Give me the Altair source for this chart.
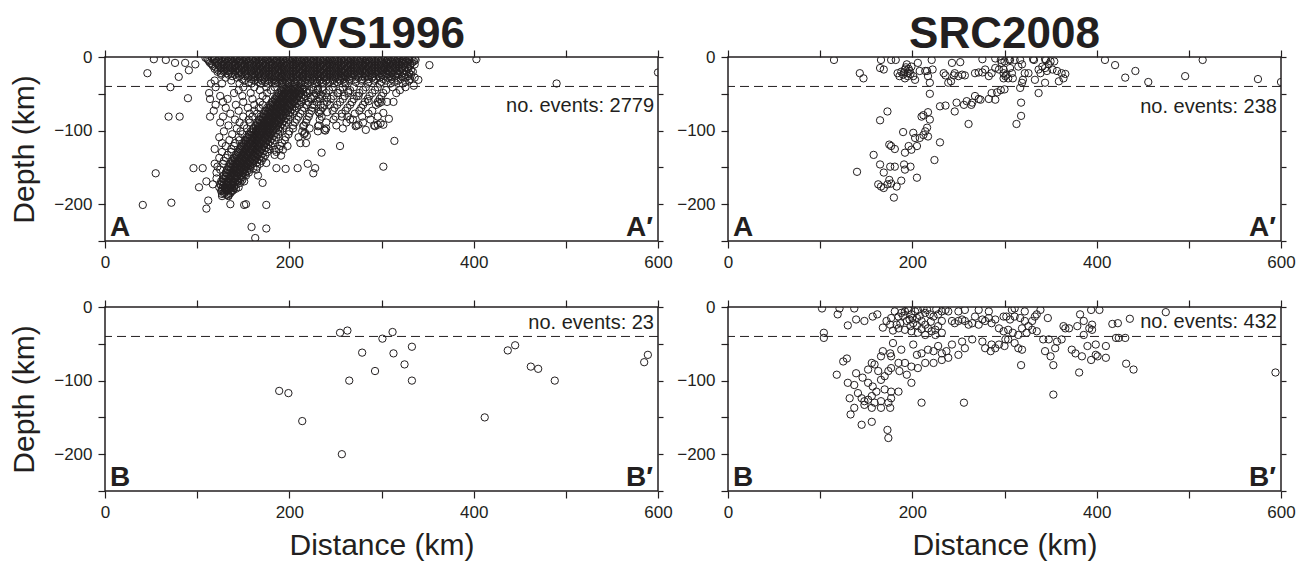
import altair as alt
import pandas as pd

FONT = "Liberation Sans"
INK = "#231f20"

# ---------------- data (distance km, depth km) ----------------
# OVS1996, profile A-A' : dense shallow band, read row by row (depth, distances)
ovs_a_band = [
    (-1, [109, 116, 121, 127, 133, 139, 144, 150, 156, 161, 167, 173, 179, 184, 190, 196, 201, 207, 213, 219, 224, 230, 236, 241, 247, 253, 259, 264, 270, 276, 281, 287, 293, 299, 304, 310, 316, 321, 327, 333]),
    (-2.5, [111, 119, 124, 130, 136, 141, 147, 153, 158, 164, 170, 176, 181, 187, 193, 198, 204, 210, 216, 221, 227, 233, 238, 244, 250, 256, 261, 267, 273, 278, 284, 290, 296, 301, 307, 313, 318, 324, 330, 336]),
    (-4, [112, 118, 124, 130, 136, 142, 147, 153, 159, 164, 170, 176, 182, 187, 193, 199, 204, 210, 216, 222, 227, 233, 239, 244, 250, 256, 262, 267, 273, 279, 284, 290, 296, 302, 307, 313, 319, 324, 330, 337]),
    (-6, [113, 121, 127, 133, 139, 145, 150, 156, 162, 167, 173, 179, 185, 190, 196, 202, 207, 213, 219, 225, 230, 236, 242, 247, 253, 259, 265, 270, 276, 282, 287, 293, 299, 305, 310, 316, 322, 327, 335]),
    (-8, [114, 120, 126, 132, 138, 144, 149, 155, 161, 167, 172, 178, 184, 190, 195, 201, 207, 213, 218, 224, 230, 236, 241, 247, 253, 259, 264, 270, 276, 282, 287, 293, 299, 305, 310, 316, 322, 328, 333]),
    (-10, [116, 123, 129, 135, 141, 147, 152, 158, 164, 170, 175, 181, 187, 193, 198, 204, 210, 216, 221, 227, 233, 239, 244, 250, 256, 262, 267, 273, 279, 285, 290, 296, 302, 308, 313, 319, 325, 331, 336]),
    (-12, [117, 123, 129, 135, 141, 147, 152, 158, 164, 169, 175, 181, 187, 192, 198, 204, 210, 215, 221, 227, 233, 238, 244, 250, 256, 261, 267, 273, 279, 284, 290, 296, 302, 307, 313, 319, 325, 331]),
    (-14, [120, 126, 132, 138, 144, 150, 155, 161, 167, 172, 178, 184, 190, 195, 201, 207, 213, 218, 224, 230, 236, 241, 247, 253, 259, 264, 270, 276, 282, 287, 293, 299, 305, 310, 316, 322, 328]),
    (-16, [119, 126, 132, 138, 143, 149, 155, 161, 166, 172, 178, 184, 189, 195, 201, 207, 212, 218, 224, 230, 235, 241, 247, 253, 258, 264, 270, 276, 281, 287, 293, 299, 304, 310, 316, 322, 329]),
    (-18, [123, 129, 135, 141, 146, 152, 158, 164, 169, 175, 181, 187, 192, 198, 204, 210, 215, 221, 227, 233, 238, 244, 250, 256, 261, 267, 273, 279, 284, 290, 296, 302, 307, 313, 319, 325, 332]),
    (-20, [122, 129, 135, 141, 146, 152, 158, 164, 169, 175, 181, 187, 192, 198, 204, 210, 215, 221, 227, 233, 238, 244, 250, 256, 261, 267, 273, 279, 284, 290, 296, 302, 308, 314, 320, 327, 334]),
    (-22, [126, 132, 138, 144, 149, 155, 161, 167, 172, 178, 184, 190, 195, 201, 207, 213, 218, 224, 230, 236, 241, 247, 253, 259, 264, 270, 276, 282, 287, 293, 299, 305, 311, 317, 323, 330]),
    (-24, [126, 134, 141, 148, 154, 160, 166, 172, 178, 184, 189, 195, 201, 207, 212, 218, 224, 230, 235, 241, 247, 253, 258, 264, 270, 276, 282, 288, 294, 300, 306, 312, 318, 325, 332]),
    (-26, [138, 146, 152, 158, 163, 169, 175, 181, 187, 192, 198, 204, 210, 215, 221, 227, 233, 238, 244, 250, 256, 261, 267, 273, 279, 285, 291, 297, 303, 309, 315, 322, 329]),
    (-28, [131, 143, 155, 162, 168, 174, 180, 186, 192, 198, 204, 209, 215, 221, 227, 232, 238, 244, 250, 256, 262, 268, 275, 282, 290, 298, 307, 316, 326, 336]),
    (-30, [149, 159, 166, 172, 178, 183, 189, 195, 201, 207, 212, 218, 224, 230, 235, 241, 247, 253, 259, 265, 272, 279, 286, 294, 302, 311, 321, 331]),
    (-32, [119, 137, 151, 162, 170, 177, 184, 190, 196, 202, 208, 214, 220, 226, 233, 240, 247, 255, 265, 278, 292, 305, 318, 330]),
    (-34, [156, 166, 174, 181, 187, 193, 199, 205, 211, 217, 223, 230, 236, 244, 252, 260, 272, 286, 300, 314, 326]),
    (-36, [115, 127, 146, 159, 169, 177, 185, 192, 199, 206, 213, 220, 228, 237, 249, 261, 285, 298, 310, 323]),
]
# OVS1996, profile A-A' : dipping slab and wedge, row by row
ovs_a_slab = [
    (-41, [120, 150, 162, 175, 184, 193, 199, 205, 211, 217, 226, 236, 247, 258, 270, 283, 296, 312, 326]),
    (-42, [194, 200, 206, 212]),
    (-43, [196, 202, 208, 214, 231]),
    (-45, [145, 168, 180, 191, 197, 203, 209, 215, 222, 226, 231, 237, 243, 255, 266, 280, 293, 305, 320]),
    (-46, [192, 198, 204, 210]),
    (-47, [194, 200, 206, 212, 218]),
    (-49, [113, 140, 158, 176, 188, 194, 200, 206, 212, 220, 229, 240, 252, 264, 276, 290, 302]),
    (-50, [189, 195, 201, 207]),
    (-51, [191, 197, 203, 209, 215, 234]),
    (-53, [125, 149, 171, 186, 192, 198, 204, 210, 218, 227, 236, 248, 260, 273, 287, 300]),
    (-54, [187, 193, 199, 205]),
    (-55, [189, 195, 201, 207, 213, 223, 232, 241]),
    (-57, [114, 133, 160, 175, 184, 190, 196, 202, 208, 216, 224, 233, 245, 258, 270, 285, 298]),
    (-58, [185, 191, 197, 203]),
    (-59, [187, 193, 199, 205, 211]),
    (-61, [128, 150, 168, 181, 187, 193, 199, 205, 213, 221, 230, 241, 255, 268, 282, 296]),
    (-62, [182, 188, 194, 200]),
    (-63, [184, 190, 196, 202, 208]),
    (-65, [120, 142, 162, 171, 179, 185, 191, 197, 203, 211, 219, 225, 227, 234, 238, 244, 252, 266, 280, 294]),
    (-66, [180, 186, 192, 198]),
    (-67, [182, 188, 194, 200, 206]),
    (-69, [131, 155, 167, 176, 182, 188, 194, 200, 208, 216, 225, 236, 249, 263, 278]),
    (-70, [178, 184, 190, 196]),
    (-71, [179, 185, 191, 197, 203]),
    (-73, [118, 145, 162, 174, 180, 186, 192, 198, 206, 214, 224, 234, 247, 261, 276, 290]),
    (-74, [175, 181, 187, 193]),
    (-75, [177, 183, 189, 195, 201, 232, 241]),
    (-77, [136, 157, 165, 172, 178, 184, 190, 196, 204, 212, 222, 233, 257, 271, 286]),
    (-78, [173, 179, 185, 191]),
    (-79, [175, 181, 187, 193, 199]),
    (-81, [114, 128, 150, 160, 169, 175, 181, 187, 193, 201, 210, 221, 235, 250, 263, 279, 296]),
    (-82, [171, 177, 183, 189]),
    (-83, [172, 178, 184, 190, 196]),
    (-85, [141, 156, 167, 173, 179, 185, 191, 199, 208, 219, 233, 248, 269, 288]),
    (-86, [168, 174, 180, 186]),
    (-87, [170, 176, 182, 188, 194]),
    (-89, [125, 146, 157, 165, 171, 177, 183, 189, 197, 206, 218, 240, 262, 280]),
    (-90, [166, 172, 178, 184]),
    (-91, [168, 174, 180, 186, 192]),
    (-93, [134, 151, 163, 169, 175, 181, 187, 195, 204, 216, 232, 251, 273, 292]),
    (-94, [164, 170, 176, 182]),
    (-95, [166, 172, 178, 184, 190]),
    (-97, [143, 154, 161, 167, 173, 179, 185, 193, 204, 222, 240, 258]),
    (-98, [161, 167, 173, 179]),
    (-99, [164, 170, 176, 182, 188]),
    (-101, [129, 147, 158, 164, 170, 176, 182, 190, 200, 214, 231]),
    (-102, [159, 165, 171, 177]),
    (-103, [161, 167, 173, 179, 185]),
    (-105, [138, 149, 156, 162, 168, 174, 180, 188, 199, 216]),
    (-106, [157, 163, 169, 175]),
    (-107, [159, 165, 171, 177, 183]),
    (-109, [124, 145, 154, 160, 166, 172, 178, 186, 196, 210]),
    (-110, [155, 161, 167, 173]),
    (-111, [157, 163, 169, 175, 181]),
    (-113, [135, 146, 152, 158, 164, 170, 176, 184, 195]),
    (-114, [153, 159, 165, 171]),
    (-115, [155, 161, 167, 173, 179]),
    (-117, [127, 141, 150, 156, 162, 168, 174, 182, 192, 218]),
    (-118, [151, 157, 163, 169]),
    (-119, [153, 159, 165, 171, 177]),
    (-121, [131, 140, 148, 154, 160, 166, 172, 180, 190]),
    (-122, [149, 155, 161, 167]),
    (-123, [151, 157, 163, 169, 175]),
    (-125, [119, 137, 146, 152, 158, 164, 170, 178, 189]),
    (-126, [147, 153, 159, 165]),
    (-127, [149, 155, 161, 167, 173]),
    (-129, [127, 137, 144, 150, 156, 162, 168, 176, 186]),
    (-130, [145, 151, 157, 163]),
    (-131, [147, 153, 159, 165, 171]),
    (-133, [133, 142, 148, 154, 160, 166, 174, 184]),
    (-134, [143, 149, 155, 161]),
    (-135, [145, 151, 157, 163, 169]),
    (-137, [124, 131, 140, 146, 152, 158, 164, 172]),
    (-138, [141, 147, 153, 159]),
    (-139, [143, 149, 155, 161, 167]),
    (-141, [129, 138, 144, 150, 156, 162, 170]),
    (-142, [139, 145, 151, 157]),
    (-143, [141, 147, 153, 159, 165]),
    (-145, [119, 128, 136, 142, 148, 154, 160, 168]),
    (-146, [137, 143, 149, 155]),
    (-147, [139, 145, 151, 157]),
    (-149, [122, 134, 140, 146, 152, 158, 165]),
    (-150, [135, 141, 147, 153]),
    (-151, [137, 143, 149, 155, 161]),
    (-153, [125, 133, 139, 145, 151, 157, 164]),
    (-154, [134, 140, 146, 151]),
    (-155, [136, 142, 148, 154]),
    (-157, [121, 131, 137, 143, 149, 156]),
    (-158, [132, 138, 144, 150]),
    (-159, [134, 140, 146, 152]),
    (-161, [129, 135, 141, 147, 153, 166]),
    (-162, [131, 137, 143]),
    (-163, [131, 137, 143, 149]),
    (-165, [121, 128, 134, 140, 146]),
    (-166, [129, 135, 141, 147]),
    (-167, [131, 137, 143, 149]),
    (-169, [126, 132, 138, 144, 151]),
    (-170, [127, 133, 139]),
    (-171, [129, 135, 141, 147]),
    (-173, [117, 125, 131, 137, 143]),
    (-174, [126, 132, 138]),
    (-175, [128, 134, 140]),
    (-177, [124, 130, 136, 145]),
    (-178, [128, 134, 140]),
    (-179, [130, 136, 142]),
    (-181, [127, 133, 139]),
    (-182, [126, 132, 138]),
    (-183, [130, 137]),
    (-185, [129, 136]),
    (-186, [127, 134]),
    (-187, [132]),
    (-189, [127, 134]),
]
# OVS1996, profile A-A' : isolated events
ovs_a_scatter = [
    (53, -3), (66, -4), (76, -8), (87, -8), (98, -10), (91, -18), (46, -22), (80, -27),
    (71, -41), (90, -56), (69, -81), (81, -81), (55, -158), (41, -201), (72, -198),
    (96, -151), (106, -151), (102, -177), (110, -169), (110, -206), (112, -195),
    (151, -201), (153, -200), (175, -201), (159, -231), (175, -233), (163, -246),
    (136, -200), (171, -171), (134, -188), (186, -151), (196, -152), (209, -151),
    (220, -145), (226, -158), (228, -151), (212, -117), (219, -107), (235, -130),
    (255, -121), (239, -100), (191, -134),
    (352, -11), (403, -3), (490, -36), (600, -21), (316, -49), (300, -61), (306, -61),
    (313, -61), (302, -76), (308, -84), (302, -92), (296, -92), (314, -114), (302, -149),
    (335, -39), (340, -31),
    (253, -49), (264, -47), (275, -53), (286, -60), (297, -63), (257, -81), (266, -85),
    (272, -94), (283, -99), (293, -94), (299, -90), (275, -92), (231, -94), (238, -99),
    (215, -94), (217, -103), (198, -121), (193, -126), (184, -126), (175, -144),
]

# SRC2008, profile A-A'
src_a_events = [
    (115, -4), (143, -22), (147, -29), (165, -15), (169, -17), (166, -4), (177, -4), (182, -4),
    (184, -22), (186, -26), (192, -17), (195, -22), (197, -19), (194, -10), (199, -13),
    (201, -26), (195, -26), (190, -24), (196, -16), (192, -29), (188, -20), (198, -23),
    (191, -21), (193, -14),
    (206, -8), (208, -19), (203, -31), (214, -19), (217, -26), (219, -35), (216, -19),
    (221, -4), (222, -17),
    (234, -22), (236, -25), (239, -35), (242, -33), (245, -25), (246, -22), (250, -26),
    (254, -24), (257, -25), (243, -8), (252, -7),
    (268, -22), (272, -21), (276, -21), (279, -17), (283, -26), (286, -22), (290, -15),
    (294, -17), (297, -8), (299, -22), (301, -26),
    (276, -3), (290, -2), (296, -4), (305, -3), (331, -3), (344, -3), (350, -6),
    (219, -50), (230, -67), (236, -66),
    (246, -74), (248, -62), (256, -65), (259, -60), (264, -65), (265, -62), (268, -53),
    (272, -57), (274, -58), (283, -57), (286, -49), (290, -58), (292, -48), (296, -45),
    (261, -91), (173, -74), (165, -86), (190, -102),
    (201, -103), (203, -110), (208, -110), (212, -106), (214, -101), (216, -96),
    (217, -108), (212, -79), (217, -75), (219, -85), (210, -81),
    (196, -121), (199, -126), (205, -121), (192, -130), (230, -116), (224, -140),
    (175, -119), (177, -121), (181, -125), (158, -133), (140, -156),
    (165, -146), (169, -157), (176, -149), (181, -149), (191, -146), (192, -153),
    (198, -149), (188, -168), (205, -164),
    (163, -173), (166, -176), (169, -178), (173, -173), (177, -172), (175, -167),
    (183, -176), (180, -191),
    (300, -6), (306, -4), (311, -4), (317, -4), (319, -10), (315, -13), (308, -22),
    (302, -24), (299, -29), (304, -29), (309, -29), (299, -17), (306, -15), (300, -44),
    (319, -35), (317, -42), (320, -31),
    (332, -4), (345, -4), (354, -6), (348, -10), (341, -13), (344, -15), (337, -17),
    (339, -22), (346, -19), (352, -17), (357, -19), (362, -22), (366, -23), (364, -29),
    (359, -33), (344, -35), (333, -31), (326, -22), (322, -22), (337, -49),
    (318, -62), (318, -80), (313, -91),
    (409, -4), (420, -11), (431, -28), (442, -19), (456, -34), (496, -26), (515, -4),
    (575, -30), (600, -34),
]

# OVS1996, profile B-B'
ovs_b_events = [
    (189, -114), (199, -117), (214, -155), (255, -35), (263, -32), (257, -200),
    (265, -100), (279, -62), (293, -87), (301, -43), (312, -34), (313, -63),
    (325, -78), (333, -54), (333, -100), (412, -150), (437, -59), (445, -52),
    (462, -81), (470, -84), (488, -100), (585, -75), (589, -65),
]

# SRC2008, profile B-B'
src_b_events = [
    (102, -2), (121, -2), (137, -2), (119, -10), (130, -25), (139, -17), (148, -19),
    (157, -13), (162, -10), (104, -35), (104, -42), (168, -28),
    (172, -19), (177, -15), (181, -6), (185, -13), (188, -8), (192, -6), (196, -4),
    (199, -10), (203, -6), (206, -4), (194, -19), (197, -17), (201, -22), (205, -15),
    (210, -19), (214, -24), (217, -29), (221, -33), (225, -31), (228, -26), (232, -19),
    (223, -13), (219, -10), (214, -8), (216, -4), (228, -10), (236, -4), (239, -6),
    (243, -19), (246, -22), (250, -19), (254, -17), (257, -19), (261, -24), (265, -22),
    (268, -13), (272, -24), (276, -17), (279, -19), (283, -15), (286, -22), (290, -17),
    (294, -29), (299, -13), (283, -6), (272, -4), (250, -6), (257, -4), (232, -6),
    (179, -32), (185, -29), (192, -31), (199, -33), (206, -35), (214, -38), (225, -38),
    (232, -35), (190, -12), (195, -2), (200, -15), (205, -25), (208, -12), (212, -2),
    (198, -26), (187, -22), (183, -24), (176, -24), (210, -30), (220, -20), (226, -3),
    (179, -49), (168, -60), (176, -63), (166, -67), (177, -67), (188, -58), (201, -51),
    (205, -65), (210, -63), (217, -58), (223, -60), (228, -53), (232, -63), (237, -60),
    (239, -69), (232, -72), (223, -76), (214, -76), (206, -83), (199, -81), (192, -76),
    (185, -76), (186, -87), (194, -92), (199, -103), (177, -83), (174, -87), (170, -94),
    (166, -99), (163, -87), (159, -78), (156, -76), (152, -85), (146, -96), (152, -103),
    (157, -108), (161, -115), (170, -112), (177, -115), (185, -115), (139, -90),
    (137, -106), (141, -117), (145, -124), (148, -128), (152, -126), (156, -121),
    (159, -130), (166, -128), (174, -130), (177, -124), (176, -137), (166, -137),
    (156, -137), (148, -133), (137, -137), (132, -124), (130, -103), (133, -146),
    (145, -160), (156, -156), (173, -167), (174, -178), (125, -74), (129, -70),
    (118, -92), (210, -130), (256, -130),
    (250, -65), (254, -47), (257, -56), (243, -51), (265, -44), (276, -47), (279, -56),
    (286, -51), (285, -60), (290, -56), (294, -51), (301, -44),
    (302, -13), (306, -17), (311, -13), (317, -15), (322, -19), (326, -26), (330, -19),
    (333, -13), (335, -10), (339, -4), (322, -6), (311, -2), (308, -4), (304, -31),
    (309, -35), (315, -38), (319, -29), (324, -35), (330, -31), (335, -33), (300, -53),
    (311, -49), (315, -56), (319, -58), (304, -44), (299, -33),
    (318, -79), (353, -79), (353, -119), (381, -89),
    (347, -15), (342, -44), (348, -44), (357, -47), (362, -44), (364, -26), (366, -29),
    (370, -29), (379, -26), (386, -19), (382, -10), (386, -38), (392, -29), (395, -24),
    (395, -31), (394, -4), (403, -4), (390, -53), (399, -51), (399, -65), (401, -67),
    (394, -72), (410, -53), (410, -69), (373, -58), (377, -63), (384, -67), (344, -60),
    (350, -67), (355, -56),
    (417, -23), (423, -22), (436, -16), (421, -42), (424, -42), (431, -42), (432, -77),
    (440, -85), (475, -7), (594, -89),
]

event_counts = [2779, 238, 23, 432]
panel_titles = ["OVS1996", "SRC2008"]
moho_depth = -40

# ---------------- helpers ----------------
XS = alt.Scale(domain=[0, 600], nice=False, zero=False)
YS = alt.Scale(domain=[-250, 0], nice=False, zero=False)
X_TICKS = [0, 100, 200, 300, 400, 500, 600]
Y_TICKS = [0, -50, -100, -150, -200, -250]


def expand_rows(rows):
    out = []
    for depth, dists in rows:
        for d in dists:
            out.append((d, depth))
    return out


def ax(**kw):
    base = dict(grid=False, domain=False, tickColor=INK, tickWidth=1.2,
                labelFont=FONT, labelFontSize=17, labelColor=INK,
                labelOverlap=False, labelFlush=False,
                titleFont=FONT, titleFontSize=30, titleFontWeight="normal",
                titleColor=INK)
    base.update(kw)
    return alt.Axis(**base)


def panel(events, count, count_depth, left_tag, right_tag, title_text, title_dx,
          ytitle, xtitle):
    df = pd.DataFrame(events, columns=["dist", "depth"])
    bottom_axis = ax(orient="bottom", values=X_TICKS, tickSize=7, labelPadding=6,
                     labelExpr="datum.value % 200 === 0 ? datum.label : ''",
                     title="Distance (km)" if xtitle else None, titlePadding=10)
    left_axis = ax(orient="left", values=Y_TICKS, tickSize=7, labelPadding=6,
                   labelExpr="datum.value % 100 === 0 ? datum.label : ''",
                   title="Depth (km)" if ytitle else None, titlePadding=14)
    right_axis = ax(orient="right", values=Y_TICKS, tickSize=5, labels=False, title=None)
    top_axis = ax(orient="top", values=X_TICKS, tickSize=7, labels=False, title=None)

    pts = alt.Chart(df).mark_point(
        shape="circle", filled=False, size=54, color=INK, strokeWidth=1.0,
        opacity=1, clip=True
    ).encode(
        x=alt.X("dist:Q", scale=XS, axis=bottom_axis),
        y=alt.Y("depth:Q", scale=YS, axis=left_axis),
    )
    rule = alt.Chart(pd.DataFrame({"depth": [moho_depth]})).mark_rule(
        color=INK, strokeWidth=1, strokeDash=[9, 5]
    ).encode(y=alt.Y("depth:Q", scale=YS, axis=right_axis))
    txt = alt.Chart(pd.DataFrame({"dist": [600], "depth": [count_depth],
                                  "label": [f"no. events: {count}"]})).mark_text(
        align="right", baseline="middle", dx=-4, font=FONT, fontSize=20, color=INK
    ).encode(
        x=alt.X("dist:Q", scale=XS, axis=top_axis),
        y=alt.Y("depth:Q", scale=YS, axis=None),
        text="label:N",
    )
    cl = alt.Chart(pd.DataFrame({"dist": [0], "depth": [-250], "label": [left_tag]})).mark_text(
        align="left", baseline="alphabetic", dx=5, dy=-5, font=FONT, fontSize=28,
        fontWeight="bold", color=INK
    ).encode(x=alt.X("dist:Q", scale=XS, axis=None), y=alt.Y("depth:Q", scale=YS, axis=None),
             text="label:N")
    cr = alt.Chart(pd.DataFrame({"dist": [600], "depth": [-250], "label": [right_tag]})).mark_text(
        align="right", baseline="alphabetic", dx=-5, dy=-5, font=FONT, fontSize=28,
        fontWeight="bold", color=INK
    ).encode(x=alt.X("dist:Q", scale=XS, axis=None), y=alt.Y("depth:Q", scale=YS, axis=None),
             text="label:N")

    layer = alt.layer(pts, rule, txt, cl, cr).resolve_axis(x="independent", y="independent")
    props = dict(width=553, height=184)
    if title_text:
        props["title"] = alt.TitleParams(text=title_text, font=FONT, fontSize=44,
                                         fontWeight="bold", color=INK, anchor="middle",
                                         offset=-9, dx=title_dx)
    return layer.properties(**props)


ovs_a_events = expand_rows(ovs_a_band) + expand_rows(ovs_a_slab) + ovs_a_scatter

p1 = panel(ovs_a_events, event_counts[0], -67, "A", "A\u2032", panel_titles[0], -12, True, False)
p2 = panel(src_a_events, event_counts[1], -68, "A", "A\u2032", panel_titles[1], 0, False, False)
p3 = panel(ovs_b_events, event_counts[2], -22, "B", "B\u2032", None, 0, True, True)
p4 = panel(src_b_events, event_counts[3], -20, "B", "B\u2032", None, 0, False, True)

chart = alt.concat(
    p1, p2, p3, p4, columns=2, spacing={"row": 66, "column": 70}, bounds="flush"
).properties(
    padding={"top": 4, "left": 0, "right": 0, "bottom": 0}, background="white"
).configure_view(stroke=INK, strokeWidth=1.5)

chart.save("out.html", embed_options={"renderer": "svg", "actions": False})
